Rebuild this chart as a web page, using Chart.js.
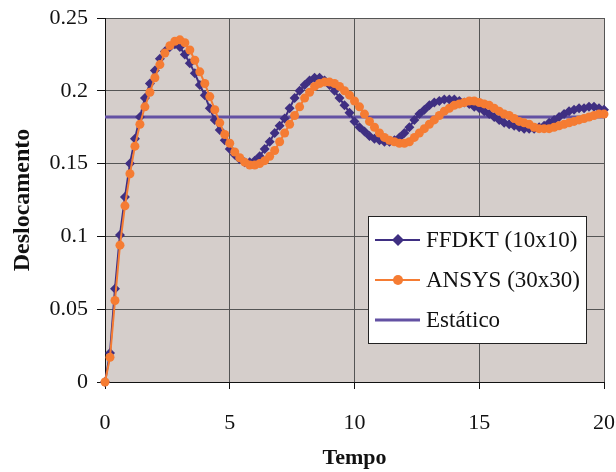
<!DOCTYPE html>
<html>
<head>
<meta charset="utf-8">
<script src="https://cdn.jsdelivr.net/npm/chart.js@4"></script>
<style>
  html, body { margin: 0; padding: 0; background: #fff; }
</style>
</head>
<body>
<canvas id="chart" width="616" height="472"></canvas>
<script>
const tempo = [
  0, 0.2, 0.4, 0.6, 0.8, 1, 1.2, 1.4, 1.6, 1.8,
  2, 2.2, 2.4, 2.6, 2.8, 3, 3.2, 3.4, 3.6, 3.8,
  4, 4.2, 4.4, 4.6, 4.8, 5, 5.2, 5.4, 5.6, 5.8,
  6, 6.2, 6.4, 6.6, 6.8, 7, 7.2, 7.4, 7.6, 7.8,
  8, 8.2, 8.4, 8.6, 8.8, 9, 9.2, 9.4, 9.6, 9.8,
  10, 10.2, 10.4, 10.6, 10.8, 11, 11.2, 11.4, 11.6, 11.8,
  12, 12.2, 12.4, 12.6, 12.8, 13, 13.2, 13.4, 13.6, 13.8,
  14, 14.2, 14.4, 14.6, 14.8, 15, 15.2, 15.4, 15.6, 15.8,
  16, 16.2, 16.4, 16.6, 16.8, 17, 17.2, 17.4, 17.6, 17.8,
  18, 18.2, 18.4, 18.6, 18.8, 19, 19.2, 19.4, 19.6, 19.8,
  20
];

const ffdkt = [
  0, 0.020, 0.064, 0.101, 0.127, 0.150, 0.167, 0.182, 0.195, 0.205,
  0.214, 0.222, 0.227, 0.230, 0.232, 0.230, 0.225, 0.219, 0.212, 0.204,
  0.197, 0.188, 0.180, 0.173, 0.166, 0.160, 0.156, 0.153, 0.151, 0.151,
  0.152, 0.155, 0.160, 0.165, 0.171, 0.176, 0.181, 0.188, 0.195, 0.200,
  0.204, 0.207, 0.209, 0.209, 0.207, 0.204, 0.200, 0.195, 0.190, 0.185,
  0.179, 0.175, 0.172, 0.169, 0.167, 0.166, 0.165, 0.165, 0.166, 0.168,
  0.171, 0.175, 0.180, 0.184, 0.187, 0.190, 0.192, 0.193, 0.194, 0.194,
  0.194, 0.193, 0.192, 0.191, 0.189, 0.188, 0.186, 0.184, 0.182, 0.180,
  0.178, 0.177, 0.176, 0.175, 0.174, 0.174, 0.174, 0.175, 0.176, 0.178,
  0.180, 0.182, 0.184, 0.186, 0.187, 0.188, 0.188, 0.189, 0.189, 0.188,
  0.187
];

const ansys = [
  0, 0.017, 0.056, 0.094, 0.121, 0.143, 0.162, 0.177, 0.189, 0.199,
  0.209, 0.218, 0.226, 0.231, 0.234, 0.235, 0.233, 0.228, 0.221, 0.213,
  0.205, 0.196, 0.187, 0.178, 0.170, 0.164, 0.158, 0.154, 0.151, 0.149,
  0.149, 0.150, 0.152, 0.155, 0.159, 0.165, 0.171, 0.177, 0.183, 0.189,
  0.195, 0.199, 0.203, 0.205, 0.206, 0.206, 0.205, 0.203, 0.200, 0.197,
  0.193, 0.189, 0.184, 0.179, 0.175, 0.171, 0.168, 0.166, 0.165, 0.164,
  0.164, 0.165, 0.168, 0.171, 0.174, 0.177, 0.180, 0.183, 0.186, 0.188,
  0.190, 0.191, 0.192, 0.193, 0.193, 0.192, 0.191, 0.190, 0.188, 0.186,
  0.184, 0.183, 0.181, 0.179, 0.178, 0.177, 0.175, 0.174, 0.174, 0.174,
  0.175, 0.176, 0.177, 0.178, 0.179, 0.180, 0.181, 0.182, 0.183, 0.184,
  0.184
];

const estaticoTempo = [0, 20];
const estatico = [0.182, 0.182];

const yTickLabels = ["0", "0.05", "0.1", "0.15", "0.2", "0.25"];
const xTickLabels = ["0", "5", "10", "15", "20"];

const seriesNames = ["FFDKT (10x10)", "ANSYS (30x30)", "Estático"];

const navy = "#3f2f82";
const orange = "#f57c33";
const purple = "#6351a3";

function toPoints(xs, ys) {
  return xs.map((x, i) => ({ x: x, y: ys[i] }));
}

const plotBackground = {
  id: "plotBackground",
  beforeDraw(chart) {
    const { ctx, chartArea } = chart;
    ctx.save();
    ctx.fillStyle = "#d5cecb";
    ctx.fillRect(chartArea.left, chartArea.top, chartArea.right - chartArea.left, chartArea.bottom - chartArea.top);
    ctx.restore();
  },
};

// legend box drawn inside the plot, like the original
const boxLegend = {
  id: "boxLegend",
  afterDraw(chart) {
    const ctx = chart.ctx;
    const left = 368, top = 216, w = 218, h = 127;
    ctx.save();
    ctx.fillStyle = "#fff";
    ctx.fillRect(left, top, w, h);
    ctx.strokeStyle = "#222";
    ctx.lineWidth = 1;
    ctx.strokeRect(left + 0.5, top + 0.5, w, h);

    const rows = [240, 280, 320];
    const colors = [navy, orange, purple];
    rows.forEach((y, i) => {
      ctx.strokeStyle = colors[i];
      ctx.lineWidth = i === 2 ? 3 : 2;
      ctx.beginPath();
      ctx.moveTo(375, y);
      ctx.lineTo(420, y);
      ctx.stroke();
      ctx.fillStyle = colors[i];
      if (i === 0) {
        ctx.beginPath();
        ctx.moveTo(398, y - 6);
        ctx.lineTo(404, y);
        ctx.lineTo(398, y + 6);
        ctx.lineTo(392, y);
        ctx.closePath();
        ctx.fill();
      } else if (i === 1) {
        ctx.beginPath();
        ctx.arc(398, y, 5, 0, Math.PI * 2);
        ctx.fill();
      }
      ctx.fillStyle = "#111";
      ctx.font = "23px 'Liberation Serif'";
      ctx.textBaseline = "middle";
      ctx.fillText(seriesNames[i], 426, y + 1);
    });
    ctx.restore();
  },
};

const ctx = document.getElementById("chart").getContext("2d");

new Chart(ctx, {
  type: "line",
  data: {
    datasets: [
      {
        label: seriesNames[0],
        data: toPoints(tempo, ffdkt),
        borderColor: navy,
        backgroundColor: navy,
        borderWidth: 2,
        pointStyle: "rectRot",
        pointRadius: 5,
        pointBorderWidth: 0,
        tension: 0,
        clip: false,
        order: 2,
      },
      {
        label: seriesNames[1],
        data: toPoints(tempo, ansys),
        borderColor: orange,
        backgroundColor: orange,
        borderWidth: 2,
        pointStyle: "circle",
        pointRadius: 4.5,
        pointBorderWidth: 0,
        tension: 0,
        clip: false,
        order: 1,
      },
      {
        label: seriesNames[2],
        data: toPoints(estaticoTempo, estatico),
        borderColor: purple,
        borderWidth: 3,
        pointRadius: 0,
        tension: 0,
        order: 3,
      },
    ],
  },
  options: {
    responsive: false,
    animation: false,
    layout: { padding: { top: 18, right: 12, left: 0, bottom: 0 } },
    plugins: {
      legend: { display: false },
      tooltip: { enabled: false },
    },
    scales: {
      x: {
        type: "linear",
        min: 0,
        max: 20,
        afterFit: function (scale) {
          scale.height = 90;
          scale.paddingLeft = 0;
          scale.paddingRight = 0;
        },
        ticks: {
          stepSize: 5,
          color: "#111",
          padding: 21,
          maxRotation: 0,
          font: { family: "'Liberation Serif'", size: 22 },
          callback: function (value, index) {
            return xTickLabels[index];
          },
        },
        grid: { color: "#555", lineWidth: 1, tickLength: 7, tickColor: "#111" },
        border: { color: "#111", width: 1 },
        title: {
          display: true,
          text: "Tempo",
          color: "#111",
          font: { family: "'Liberation Serif'", size: 22, weight: "bold" },
          padding: { top: 4, bottom: 0 },
        },
      },
      y: {
        min: 0,
        max: 0.25,
        afterFit: function (scale) {
          scale.width = 105;
          scale.paddingTop = 0;
          scale.paddingBottom = 0;
        },
        ticks: {
          stepSize: 0.05,
          color: "#111",
          padding: 9,
          font: { family: "'Liberation Serif'", size: 22 },
          callback: function (value, index) {
            return yTickLabels[index];
          },
        },
        grid: { color: "#555", lineWidth: 1, tickLength: 8, tickColor: "#111" },
        border: { color: "#111", width: 1 },
        title: {
          display: true,
          text: "Deslocamento",
          color: "#111",
          font: { family: "'Liberation Serif'", size: 24, weight: "bold" },
          padding: { top: 8, bottom: 0 },
        },
      },
    },
  },
  plugins: [plotBackground, boxLegend],
});
</script>
</body>
</html>
